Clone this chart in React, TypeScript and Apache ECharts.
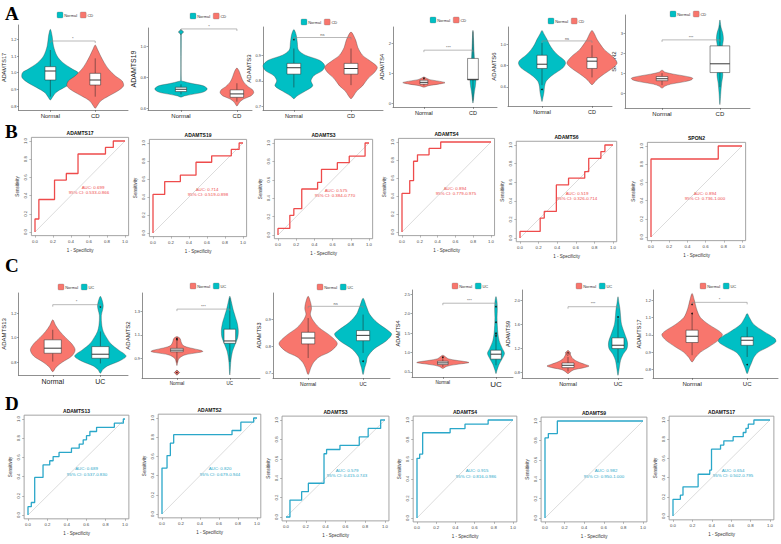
import React, { useEffect, useRef } from "react";
import * as echarts from "echarts";

// ---------------- colours ----------------
const TEAL = "#00BFC4";
const SALMON = "#F8766D";
const ROC_RED = "#EE4B4B";
const ROC_BLUE = "#2AA7C9";

// ---------------- Panel A (CD vs Normal) violin data ----------------
const A_GENES = ["ADAMTS17", "ADAMTS19", "ADAMTS3", "ADAMTS4", "ADAMTS6", "SPON2"];
const A_GROUPS = ["Normal", "CD"];
// profiles: [value, half-width]
const A1_NORMAL = [[1.26,0],[1.22,0.04],[1.16,0.07],[1.1,0.15],[1.06,0.28],[1.02,0.5],[1.0,0.62],[0.97,0.63],[0.94,0.5],[0.91,0.3],[0.88,0.12],[0.85,0.04],[0.836,0]];
const A1_CD = [[1.166,0],[1.14,0.05],[1.1,0.12],[1.06,0.2],[1.02,0.3],[0.98,0.45],[0.95,0.6],[0.92,0.63],[0.89,0.5],[0.86,0.3],[0.83,0.12],[0.8,0.04],[0.786,0]];
const A2_NORMAL = [[1.1,0],[1.09,0.006],[0.78,0.006],[0.775,0.03],[0.76,0.2],[0.745,0.4],[0.725,0.47],[0.705,0.4],[0.69,0.2],[0.68,0.06],[0.672,0]];
const A2_CD = [[0.86,0],[0.84,0.04],[0.8,0.08],[0.77,0.12],[0.74,0.2],[0.72,0.28],[0.7,0.3],[0.68,0.25],[0.66,0.12],[0.64,0.05],[0.615,0]];
const A3_NORMAL = [[1.0,0],[0.98,0.04],[0.95,0.06],[0.92,0.08],[0.9,0.2],[0.88,0.45],[0.86,0.54],[0.84,0.5],[0.82,0.35],[0.8,0.3],[0.78,0.33],[0.76,0.2],[0.74,0.05],[0.73,0]];
const A3_CD = [[0.99,0],[0.96,0.08],[0.93,0.12],[0.9,0.2],[0.88,0.32],[0.86,0.44],[0.85,0.46],[0.83,0.4],[0.81,0.3],[0.78,0.2],[0.76,0.1],[0.74,0.04],[0.73,0]];
const A4_NORMAL = [[0.89,0],[0.85,0.05],[0.8,0.12],[0.75,0.3],[0.7,0.43],[0.65,0.3],[0.6,0.1],[0.55,0]];
const A4_CD = [[2.44,0],[2.2,0.01],[2.0,0.015],[1.8,0.02],[1.5,0.03],[1.2,0.04],[1.0,0.05],[0.8,0.06],[0.6,0.05],[0.4,0.03],[0.2,0.015],[0.02,0]];
const A5_NORMAL = [[1.135,0],[1.1,0.04],[1.05,0.1],[1.0,0.15],[0.95,0.22],[0.9,0.32],[0.85,0.45],[0.82,0.47],[0.78,0.42],[0.74,0.3],[0.7,0.18],[0.65,0.08],[0.6,0.05],[0.55,0.04],[0.5,0.02],[0.46,0]];
const A5_CD = [[1.135,0],[1.1,0.05],[1.05,0.1],[1.0,0.17],[0.95,0.25],[0.9,0.38],[0.85,0.48],[0.82,0.5],[0.78,0.42],[0.74,0.3],[0.7,0.18],[0.66,0.08],[0.62,0]];
const A6_NORMAL = [[1.15,0],[1.05,0.05],[0.95,0.2],[0.85,0.4],[0.75,0.53],[0.65,0.5],[0.55,0.35],[0.45,0.15],[0.35,0.05],[0.25,0]];
const A6_CD = [[3.67,0],[3.3,0.02],[3.0,0.05],[2.7,0.06],[2.3,0.04],[1.8,0.03],[1.3,0.04],[0.9,0.05],[0.5,0.03],[0.0,0.015],[-0.58,0]];
const A_PROFILES = [[A1_NORMAL, A1_CD],[A2_NORMAL, A2_CD],[A3_NORMAL, A3_CD],[A4_NORMAL, A4_CD],[A5_NORMAL, A5_CD],[A6_NORMAL, A6_CD]];
// boxes: [lower whisker, q1, median, q3, upper whisker]
const A_BOXES = [
  [[0.856,0.956,1.01,1.036,1.136],[0.856,0.926,0.956,0.996,1.086]],
  [[0.69,0.708,0.723,0.736,0.755],[0.643,0.671,0.693,0.719,0.762]],
  [[0.774,0.826,0.851,0.868,0.926],[0.783,0.826,0.848,0.868,0.926]],
  [[0.6,0.65,0.71,0.78,0.85],[0.1,0.79,0.81,1.505,2.4]],
  [[0.616,0.774,0.814,0.899,1.016],[0.689,0.774,0.843,0.877,0.994]],
  [[0.4,0.62,0.72,0.83,1.0],[0.3,1.03,1.47,2.37,3.4]],
];
const A_OUTLIERS = [[[1.176],[]],[[],[]],[[0.961],[]],[[0.85],[]],[[0.575],[]],[[],[]]];
const A_BIG_OUTLIERS = [[[],[]],[[1.093],[]],[[],[]],[[],[]],[[],[]],[[],[]]];
const A_SIG_Y = [1.19, 1.113, 0.969, 1.78, 1.035, 2.67];
const A_SIG_LABEL = ["*", "*", "ns", "***", "ns", "***"];
const A_TICKS = [[0.8,0.9,1.0,1.1,1.2],[0.6,0.8,1.0],[0.7,0.8,0.9],[0,1,2],[0.6,0.8,1.0],[0,1,2,3]];

// ---------------- Panel C (UC vs Normal) violin data ----------------
const C_GENES = ["ADAMTS13", "ADAMTS2", "ADAMTS3", "ADAMTS4", "ADAMTS9", "ADAMTS17"];
const C_GROUPS = ["Normal", "UC"];
const C1_NORMAL = [[1.145,0],[1.1,0.06],[1.05,0.15],[1.0,0.27],[0.95,0.4],[0.9,0.47],[0.85,0.4],[0.8,0.2],[0.76,0.07],[0.723,0]];
const C1_UC = [[1.336,0],[1.3,0.04],[1.26,0.06],[1.23,0.05],[1.18,0.02],[1.1,0.03],[1.05,0.06],[1.0,0.13],[0.95,0.22],[0.9,0.38],[0.85,0.54],[0.81,0.4],[0.77,0.15],[0.74,0.05],[0.71,0]];
const C2_NORMAL = [[1.086,0],[1.07,0.06],[1.04,0.08],[1.01,0.12],[0.99,0.25],[0.97,0.45],[0.96,0.49],[0.95,0.4],[0.93,0.15],[0.9,0.04],[0.86,0.01],[0.84,0]];
const C2_UC = [[1.43,0],[1.38,0.03],[1.32,0.06],[1.26,0.1],[1.2,0.14],[1.14,0.16],[1.08,0.15],[1.02,0.1],[0.96,0.05],[0.88,0.02],[0.76,0]];
const C3_NORMAL = [[0.9875,0],[0.96,0.05],[0.94,0.06],[0.92,0.04],[0.9,0.08],[0.87,0.2],[0.84,0.4],[0.81,0.53],[0.78,0.4],[0.76,0.2],[0.74,0.1],[0.72,0.05],[0.694,0]];
const C3_UC = [[0.98,0],[0.95,0.06],[0.92,0.12],[0.89,0.25],[0.86,0.45],[0.845,0.52],[0.82,0.42],[0.79,0.2],[0.76,0.08],[0.74,0.06],[0.72,0.03],[0.694,0]];
const C4_NORMAL = [[0.93,0],[0.88,0.06],[0.84,0.1],[0.8,0.25],[0.76,0.45],[0.74,0.49],[0.71,0.35],[0.67,0.15],[0.63,0.05],[0.59,0]];
const C4_UC = [[2.44,0],[2.3,0.02],[2.1,0.025],[1.9,0.02],[1.7,0.025],[1.5,0.035],[1.3,0.06],[1.1,0.12],[0.98,0.16],[0.85,0.12],[0.7,0.06],[0.55,0.02],[0.457,0]];
const C5_NORMAL = [[1.15,0],[1.12,0.04],[1.08,0.06],[1.03,0.1],[0.98,0.2],[0.94,0.33],[0.91,0.42],[0.88,0.3],[0.85,0.12],[0.81,0.04],[0.785,0]];
const C5_UC = [[2.055,0],[1.95,0.02],[1.85,0.04],[1.75,0.05],[1.6,0.07],[1.45,0.13],[1.3,0.19],[1.2,0.18],[1.1,0.1],[1.0,0.05],[0.85,0.02],[0.757,0]];
const C6_NORMAL = [[1.238,0],[1.2,0.04],[1.15,0.08],[1.1,0.15],[1.06,0.3],[1.02,0.5],[1.0,0.55],[0.97,0.48],[0.93,0.3],[0.9,0.15],[0.87,0.06],[0.844,0]];
const C6_UC = [[1.123,0],[1.1,0.04],[1.06,0.12],[1.02,0.3],[0.98,0.5],[0.96,0.52],[0.93,0.38],[0.9,0.2],[0.87,0.12],[0.84,0.08],[0.81,0.04],[0.777,0]];
const C_PROFILES = [[C1_NORMAL, C1_UC],[C2_NORMAL, C2_UC],[C3_NORMAL, C3_UC],[C4_NORMAL, C4_UC],[C5_NORMAL, C5_UC],[C6_NORMAL, C6_UC]];
const C_BOXES = [
  [[0.805,0.873,0.914,0.982,1.064],[0.79,0.832,0.865,0.927,1.05]],
  [[0.866,0.957,0.971,0.986,1.066],[0.871,1.029,1.049,1.149,1.414]],
  [[0.756,0.809,0.831,0.8525,0.906],[0.775,0.821,0.841,0.859,0.919]],
  [[0.63,0.69,0.733,0.776,0.89],[0.67,0.83,0.957,1.06,1.53]],
  [[0.823,0.884,0.923,0.961,1.06],[0.967,1.199,1.254,1.376,1.696]],
  [[0.883,0.956,0.992,1.027,1.123],[0.873,0.94,0.969,0.988,1.046]],
];
const C_OUTLIERS = [[[],[1.25,1.24]],[[1.06,1.07],[]],[[0.944,0.7375],[0.744,0.748]],[[0.88],[2.18,1.78,1.49,1.43]],[[],[1.87,1.72]],[[1.175,1.123],[0.829]]];
const C_BIG_OUTLIERS = [[[],[]],[[0.78],[]],[[],[]],[[],[]],[[1.127],[]],[[],[]]];
const C_SIG_Y = [1.268, 1.32, 0.95, 2.27, 1.89, 1.187];
const C_SIG_LABEL = ["*", "***", "ns", "***", "***", "*"];
const C_TICKS = [[0.8,1.0,1.2],[0.9,1.1,1.3],[0.7,0.8,0.9],[0.5,1.0,1.5,2.0,2.5],[0.8,1.2,1.6,2.0],[0.8,0.9,1.0,1.1,1.2]];

// ---------------- ROC data: [1 - specificity where step occurs, new sensitivity] ----------------
const B_GENES = ["ADAMTS17", "ADAMTS19", "ADAMTS3", "ADAMTS4", "ADAMTS6", "SPON2"];
const B1_STEPS = [[0,0.143],[0.043,0.357],[0.217,0.571],[0.348,0.643],[0.478,0.857],[0.783,0.929],[0.87,1.0]];
const B2_STEPS = [[0,0.429],[0.13,0.571],[0.304,0.643],[0.478,0.786],[0.652,0.857],[0.87,0.929],[0.957,1.0]];
const B3_STEPS = [[0,0.071],[0.13,0.214],[0.174,0.286],[0.261,0.5],[0.435,0.571],[0.478,0.714],[0.652,0.786],[0.783,0.857],[0.957,1.0]];
const B4_STEPS = [[0,0.429],[0.087,0.571],[0.13,0.786],[0.174,0.857],[0.304,0.929],[0.435,1.0]];
const B5_STEPS = [[0,0.071],[0.217,0.214],[0.261,0.286],[0.391,0.571],[0.522,0.643],[0.696,0.714],[0.739,0.857],[0.87,0.929],[0.913,1.0]];
const B6_STEPS = [[0,0.857],[0.739,1.0]];
const B_STEPS = [B1_STEPS, B2_STEPS, B3_STEPS, B4_STEPS, B5_STEPS, B6_STEPS];
const B_AUC = ["AUC: 0.699", "AUC: 0.714", "AUC: 0.575", "AUC: 0.894", "AUC: 0.519", "AUC: 0.894"];
const B_CI = ["95% CI: 0.533-0.866", "95% CI: 0.519-0.898", "95% CI: 0.384-0.770", "95% CI: 0.779-0.975", "95% CI: 0.326-0.714", "95% CI: 0.736-1.000"];

const D_GENES = ["ADAMTS13", "ADAMTS2", "ADAMTS3", "ADAMTS4", "ADAMTS9", "ADAMTS17"];
const D1_STEPS = [[0,0.087],[0.034,0.13],[0.069,0.391],[0.155,0.522],[0.224,0.565],[0.259,0.609],[0.32,0.652],[0.448,0.696],[0.528,0.739],[0.569,0.783],[0.603,0.826],[0.638,0.87],[0.707,0.913],[0.89,0.957],[0.983,1.0]];
const D2_STEPS = [[0,0.478],[0.053,0.609],[0.088,0.739],[0.123,0.826],[0.737,0.87],[0.83,0.957],[0.965,1.0]];
const D3_STEPS = [[0.04,0.174],[0.158,0.261],[0.226,0.348],[0.384,0.652],[0.41,0.696],[0.545,0.739],[0.74,0.826],[0.83,0.913],[0.956,1.0]];
const D4_STEPS = [[0,0.609],[0.028,0.652],[0.059,0.87],[0.345,0.913],[0.5,0.957],[0.741,1.0]];
const D5_STEPS = [[0,0.826],[0.034,0.87],[0.126,1.0]];
const D6_STEPS = [[0,0.174],[0.076,0.217],[0.103,0.304],[0.259,0.435],[0.379,0.478],[0.397,0.696],[0.49,0.739],[0.524,0.783],[0.62,0.826],[0.724,0.87],[0.752,0.913],[0.776,0.957],[0.834,1.0]];
const D_STEPS = [D1_STEPS, D2_STEPS, D3_STEPS, D4_STEPS, D5_STEPS, D6_STEPS];
const D_AUC = ["AUC: 0.689", "AUC: 0.820", "AUC: 0.579", "AUC: 0.915", "AUC: 0.982", "AUC: 0.654"];
const D_CI = ["95% CI: 0.537-0.830", "95% CI: 0.679-0.944", "95% CI: 0.415-0.743", "95% CI: 0.816-0.986", "95% CI: 0.950-1.000", "95% CI: 0.502-0.795"];

const ROC_TICKS = [0, 0.2, 0.4, 0.6, 0.8, 1.0];

// ---------------- layout (pixels) ----------------
// [left, right, top, bottom, xMin, xMax, yMin, yMax, nameGap, nameSize, catSizeA, catSizeB, boxHalfA, boxHalfB, legendX, legendY, decimals]
const A_LAYOUT = [
  [18,128,25,110, 0.29,2.73, 0.776,1.286, 8,5.5, 6,6, 0.12,0.12, 57,15, 1],
  [148,252,28,110, 0.41,2.27, 0.589,1.119, 8,7, 6,6, 0.1,0.12, 190,16, 1],
  [263,383,27,110, 0.46,2.56, 0.686,1.01, 8,6, 5.5,5.5, 0.12,0.12, 301,22, 1],
  [393,497,27,107, 0.37,2.49, -0.11,2.55, 5,5.5, 5.5,5.5, 0.08,0.11, 430,20, 0],
  [508,612,27,106, 0.32,2.4, 0.418,1.167, 8,6, 5.5,5.5, 0.1,0.1, 548,21, 1],
  [625,750,15,108, 0.36,2.52, -0.75,3.92, 5,6, 6,6, 0.1,0.17, 670,14, 0],
];
const A_FILLS = [[TEAL,SALMON],[TEAL,SALMON],[TEAL,SALMON],[SALMON,TEAL],[TEAL,SALMON],[SALMON,TEAL]];
const C_LAYOUT = [
  [13,128,293,375, 0.28,2.58, 0.696,1.363, 8,6, 7,7, 0.18,0.18, 58,287, 1],
  [142,260,293,378, 0.34,2.57, 0.734,1.457, 8,6, 4.5,4.5, 0.12,0.11, 190,286, 1],
  [273,390,293,378, 0.36,2.49, 0.681,1.0, 8,5.5, 5,5, 0.12,0.12, 317,287, 1],
  [412,513,290,377, 0.42,2.32, 0.37,2.61, 8,5.5, 4.5,8, 0.1,0.1, 452,286, 1],
  [522,643,290,378, 0.08,2.5, 0.713,2.166, 8,5.5, 5.5,6, 0.12,0.12, 576,286, 1],
  [653,778,290,378, 0.29,2.56, 0.752,1.258, 8,5.5, 6,6, 0.11,0.11, 700,286, 1],
];
const C_FILLS = [SALMON, TEAL];
// ROC: [x of 0, x of 1, y of 1, y of 0, title y, aucX, aucY, ciX, ciY]
const B_LAYOUT = [
  [35,125,141,232,133, 93,187.3, 89,192.3],
  [153,243,143,233,134, 207,189, 208,194],
  [278,369,143,235,134, 336,190.7, 335,195.7],
  [402,491,142,232,133, 455,188.3, 456,193],
  [520,613,145,238,137, 577,193.3, 577,198.3],
  [651,742,146,237,137, 705,193.3, 705,198.3],
];
const D_LAYOUT = [
  [28,125,419,515,410, 86.5,468.3, 87,474],
  [162,257,418,514,410, 220,468.3, 220,474],
  [286,385,420,517,410, 347,470, 347,475],
  [417,513,420,518,410, 477,470.5, 476,476],
  [545,643,421,518,410, 606,470.5, 604,476],
  [673,770,420,516,410, 733,470, 733,475],
];

const FONT = "Liberation Sans";

function stairs(steps: number[][]) {
  const pts: number[][] = [[0, 0]];
  let y = 0;
  for (const [x, ny] of steps) {
    const last = pts[pts.length - 1];
    if (last[0] !== x) pts.push([x, y]);
    pts.push([x, ny]);
    y = ny;
  }
  pts.push([1, y]);
  return pts;
}

function txt(text: string, x: number, y: number, size: number, fill: string, align = "center", vAlign = "middle", extra: any = {}) {
  return {
    type: "text",
    silent: true,
    style: {
      text, x, y, fill, fontSize: size, fontFamily: FONT,
      align, verticalAlign: vAlign, textAlign: align, textVerticalAlign: vAlign,
      ...extra,
    },
  };
}

function violinRender(profiles: number[][][], boxes: number[][], outl: number[][], big: number[][], fills: string[], boxHalf: number[], sigY: number, sigLabel: string) {
  return (params: any, api: any) => {
    const i = params.dataIndex;
    if (i === 2) {
      const p1 = api.coord([1, sigY]);
      const p2 = api.coord([2, sigY]);
      return {
        type: "group",
        children: [
          { type: "polyline", shape: { points: [[p1[0], p1[1] + 2], [p1[0], p1[1]], [p2[0], p2[1]], [p2[0], p2[1] + 2]] }, style: { stroke: "#8a8a8a", lineWidth: 0.6, fill: "none" } },
          txt(sigLabel, (p1[0] + p2[0]) / 2, p1[1] - 0.8, 4, "#555", "center", "bottom"),
        ],
      };
    }
    const cx = i + 1;
    const prof = profiles[i];
    const right = prof.map(([v, w]) => api.coord([cx + w, v]));
    const left = prof.slice(1, -1).reverse().map(([v, w]) => api.coord([cx - w, v]));
    const [lw, q1, md, q3, hw] = boxes[i];
    const bh = boxHalf[i];
    const a = api.coord([cx - bh, q3]);
    const b = api.coord([cx + bh, q1]);
    const m = api.coord([cx, md]);
    const top = api.coord([cx, hw]);
    const bot = api.coord([cx, lw]);
    const children: any[] = [
      { type: "polygon", shape: { points: right.concat(left), smooth: 0.3 }, style: { fill: fills[i], stroke: "#3a3a3a", lineWidth: 0.35 } },
      { type: "line", shape: { x1: top[0], y1: top[1], x2: top[0], y2: a[1] }, style: { stroke: "#222", lineWidth: 0.5 } },
      { type: "line", shape: { x1: bot[0], y1: b[1], x2: bot[0], y2: bot[1] }, style: { stroke: "#222", lineWidth: 0.5 } },
      { type: "rect", shape: { x: a[0], y: a[1], width: b[0] - a[0], height: b[1] - a[1] }, style: { fill: "#fff", stroke: "#222", lineWidth: 0.5 } },
      { type: "line", shape: { x1: a[0], y1: m[1], x2: b[0], y2: m[1] }, style: { stroke: "#222", lineWidth: 0.9 } },
    ];
    for (const v of outl[i]) {
      const p = api.coord([cx, v]);
      children.push({ type: "circle", shape: { cx: p[0], cy: p[1], r: 0.8 }, style: { fill: "#111" } });
    }
    for (const v of big[i]) {
      const p = api.coord([cx, v]);
      const r = 2.6;
      children.push({ type: "polygon", shape: { points: [[p[0], p[1] - r], [p[0] + r, p[1]], [p[0], p[1] + r], [p[0] - r, p[1]]] }, style: { fill: fills[i], stroke: "#333", lineWidth: 0.5 } });
      children.push({ type: "circle", shape: { cx: p[0], cy: p[1], r: 0.7 }, style: { fill: "#111" } });
    }
    return { type: "group", children };
  };
}

function buildOption() {
  const grid: any[] = [];
  const xAxis: any[] = [];
  const yAxis: any[] = [];
  const series: any[] = [];
  const graphic: any[] = [];

  // panel letters
  const letters: [string, number, number][] = [["A", 5, 4], ["B", 5, 122], ["C", 5, 256], ["D", 5, 394]];
  for (const [l, x, y] of letters) {
    graphic.push(txt(l, x, y, 19, "#000", "left", "top", { fontFamily: "Liberation Serif", fontWeight: "bold" }));
  }

  const addViolinRow = (genes: string[], groups: string[], layouts: number[][], profiles: number[][][][], boxes: number[][][], outl: number[][][], big: number[][][], sigY: number[], sigL: string[], ticks: number[][], fillsFor: (k: number) => string[], legendFills: string[]) => {
    genes.forEach((gene, k) => {
      const L = layouts[k];
      const [l, r, t, b, xMin, xMax, yMin, yMax, nameGap, nameSize, catA, catB, bhA, bhB, lgX, lgY, dec] = L;
      const gi = grid.length;
      grid.push({ left: l, top: t, width: r - l, height: b - t, show: false });
      xAxis.push({
        gridIndex: gi, type: "value", min: xMin, max: xMax,
        axisLine: { show: true, onZero: false, lineStyle: { color: "#444", width: 0.6 } },
        axisTick: { show: true, customValues: [1, 2], length: 2, lineStyle: { color: "#444", width: 0.5 } },
        axisLabel: {
          customValues: [1, 2], margin: 3, color: "#222",
          formatter: (v: number) => (Math.round(v) === 1 ? `{a|${groups[0]}}` : `{b|${groups[1]}}`),
          rich: { a: { fontSize: catA, color: "#222", fontFamily: FONT }, b: { fontSize: catB, color: "#222", fontFamily: FONT } },
        },
        splitLine: { show: false },
      });
      yAxis.push({
        gridIndex: gi, type: "value", min: yMin, max: yMax,
        axisLine: { show: true, onZero: false, lineStyle: { color: "#444", width: 0.6 } },
        axisTick: { show: true, customValues: ticks[k], length: 1.5, lineStyle: { color: "#444", width: 0.5 } },
        axisLabel: { customValues: ticks[k], margin: 2, fontSize: 4, color: "#444", formatter: (v: number) => v.toFixed(dec) },
        splitLine: { show: false },
        name: gene, nameLocation: "middle", nameGap,
        nameTextStyle: { fontSize: nameSize, color: "#222", fontFamily: FONT },
      });
      const yMid = (yMin + yMax) / 2;
      series.push({
        type: "custom", xAxisIndex: gi, yAxisIndex: gi, silent: true,
        data: [[1, yMid], [2, yMid], [1.5, yMid]],
        renderItem: violinRender(profiles[k], boxes[k], outl[k], big[k], fillsFor(k), [bhA, bhB], sigY[k], sigL[k]),
      });
      // legend
      let cx = lgX;
      groups.forEach((g, j) => {
        graphic.push({ type: "rect", silent: true, shape: { x: cx, y: lgY - 3, width: 6, height: 6, r: 1 }, style: { fill: legendFills[j], stroke: "#777", lineWidth: 0.3 } });
        graphic.push(txt(g, cx + 7.2, lgY, 4, "#333", "left", "middle"));
        cx += 7.2 + g.length * 2.3 + 2.2;
      });
    });
  };

  addViolinRow(A_GENES, A_GROUPS, A_LAYOUT, A_PROFILES, A_BOXES, A_OUTLIERS, A_BIG_OUTLIERS, A_SIG_Y, A_SIG_LABEL, A_TICKS, (k) => A_FILLS[k], [TEAL, SALMON]);
  addViolinRow(C_GENES, C_GROUPS, C_LAYOUT, C_PROFILES, C_BOXES, C_OUTLIERS, C_BIG_OUTLIERS, C_SIG_Y, C_SIG_LABEL, C_TICKS, () => C_FILLS, [SALMON, TEAL]);

  const addRocRow = (genes: string[], layouts: number[][], steps: number[][][], aucs: string[], cis: string[], color: string) => {
    genes.forEach((gene, k) => {
      const [x0, x1, y1, y0, titleY, ax, ay, cxp, cyp] = layouts[k];
      const w = x1 - x0;
      const h = y0 - y1;
      const left = x0 - 0.04 * w;
      const top = y1 - 0.04 * h;
      const gi = grid.length;
      grid.push({ left, top, width: w * 1.08, height: h * 1.08, show: true, borderColor: "#9a9a9a", borderWidth: 0.9, backgroundColor: "transparent" });
      xAxis.push({
        gridIndex: gi, type: "value", min: -0.04, max: 1.04,
        axisLine: { show: false, onZero: false },
        axisTick: { show: true, customValues: ROC_TICKS, length: 2, lineStyle: { color: "#777", width: 0.5 } },
        axisLabel: { customValues: ROC_TICKS, margin: 4, fontSize: 4.3, color: "#444", formatter: (v: number) => v.toFixed(1) },
        splitLine: { show: false },
        name: "1 - Specificity", nameLocation: "middle", nameGap: 12,
        nameTextStyle: { fontSize: 4.5, color: "#333", fontFamily: FONT },
      });
      yAxis.push({
        gridIndex: gi, type: "value", min: -0.04, max: 1.04,
        axisLine: { show: false, onZero: false },
        axisTick: { show: true, customValues: ROC_TICKS, length: 2, lineStyle: { color: "#777", width: 0.5 } },
        axisLabel: { customValues: ROC_TICKS, margin: 4, fontSize: 4.3, color: "#444", rotate: 90, formatter: (v: number) => v.toFixed(1) },
        splitLine: { show: false },
        name: "Sensitivity", nameLocation: "middle", nameGap: 11,
        nameTextStyle: { fontSize: 4.5, color: "#333", fontFamily: FONT },
      });
      series.push({
        type: "line", xAxisIndex: gi, yAxisIndex: gi, silent: true, symbol: "none",
        data: [[0, 0], [1, 1]], lineStyle: { color: "#c4c4c4", width: 0.6 },
      });
      series.push({
        type: "line", xAxisIndex: gi, yAxisIndex: gi, silent: true, symbol: "none",
        data: stairs(steps[k]), lineStyle: { color, width: 1.3 },
      });
      graphic.push(txt(gene, left + (w * 1.08) / 2, top - 4.5, 5, "#111", "center", "middle", { fontWeight: "bold" }));
      graphic.push(txt(aucs[k], ax, ay, 4.4, color));
      graphic.push(txt(cis[k], cxp, cyp, 4.4, color));
    });
  };

  addRocRow(B_GENES, B_LAYOUT, B_STEPS, B_AUC, B_CI, ROC_RED);
  addRocRow(D_GENES, D_LAYOUT, D_STEPS, D_AUC, D_CI, ROC_BLUE);

  return {
    animation: false,
    backgroundColor: "#ffffff",
    textStyle: { fontFamily: FONT },
    grid, xAxis, yAxis, series, graphic,
  };
}

export default function App() {
  const ref = useRef<HTMLDivElement>(null);
  useEffect(() => {
    document.body.style.margin = "0";
    const chart = echarts.init(ref.current as HTMLDivElement, null, { renderer: "svg" });
    chart.setOption(buildOption() as any);
    return () => chart.dispose();
  }, []);
  return <div ref={ref} style={{ width: 781, height: 544, background: "#fff" }} />;
}
